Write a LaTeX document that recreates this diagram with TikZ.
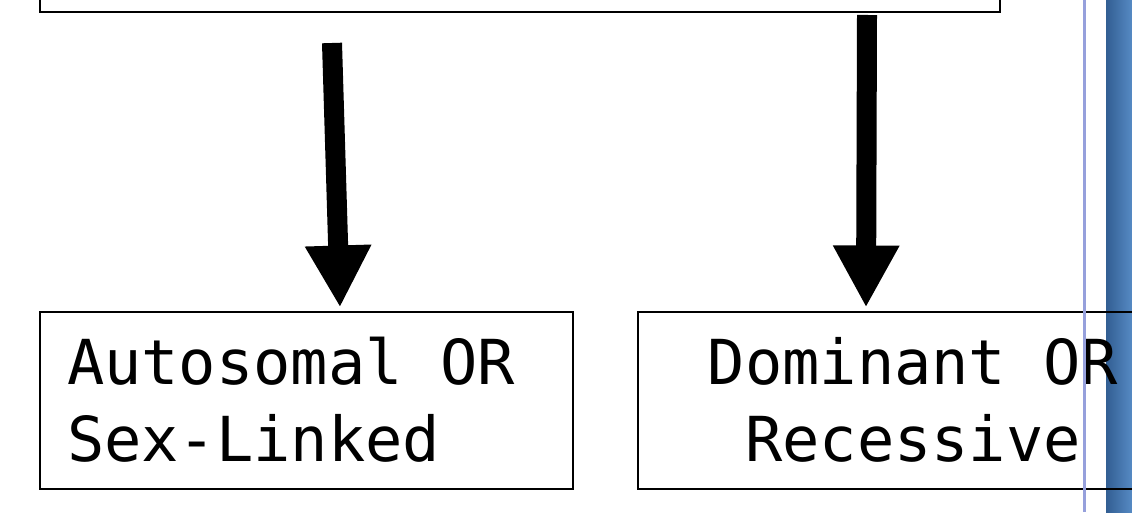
\documentclass[tikz,border=0pt]{standalone}
\usepackage{fontspec}
\setmonofont{DejaVu Sans Mono}
\usepackage{tikz}
\usetikzlibrary{arrows.meta,positioning}
\definecolor{guideblue}{RGB}{150,160,220}
\definecolor{stripdark}{RGB}{50,94,146}
\definecolor{striplight}{RGB}{86,138,196}
\newcommand{\monogap}{\hspace*{0.602em}}

\begin{document}
\begin{tikzpicture}[x=1pt, y=1pt, font=\ttfamily\fontsize{62}{77}\selectfont, box/.style = {draw, rectangle, line width=2pt, minimum height=177pt, inner xsep=27pt}, bigarrow/.style = {line width=20pt, -{Triangle[width=62pt, length=62pt]}}]
                \useasboundingbox (0,0) rectangle (1132,512);
                \clip (0,0) rectangle (1132,512);
                \shade[left color=stripdark, right color=striplight] (1106,0) rectangle (1132,512);
                \node[draw, line width=2pt, minimum width=960pt, minimum height=160pt] (pattern) at (520,580) {};
                \node[box, text width=479pt, align=left] (auto) at (306.5,112) {Autosomal\monogap OR\\Sex-Linked};
                \node[box, text width=496pt, align=center] (dom) at (913,112) {Dominant\monogap OR\\Recessive};
                \coordinate (s1) at (332,469);
                \coordinate (s2) at (867,497);
                \draw[bigarrow] (s1) -- ([xshift=33.5pt, yshift=3pt]auto.north);
                \draw[bigarrow] (s2) -- ([xshift=-47pt, yshift=3pt]dom.north);
                \draw[guideblue, line width=3pt] (1084,0) -- (1084,512);
            \end{tikzpicture}
\end{document}
